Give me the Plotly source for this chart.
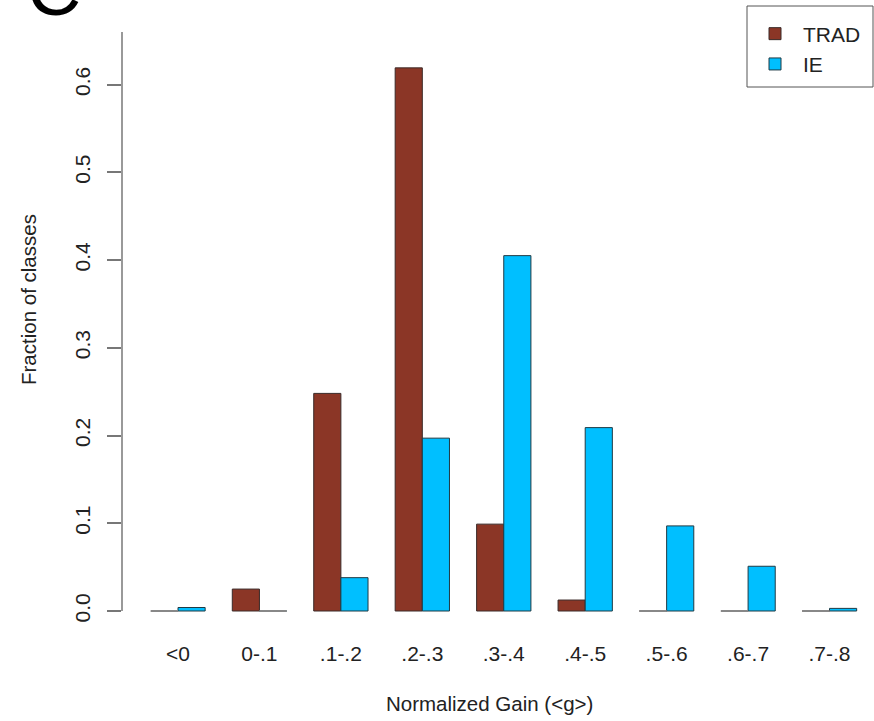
import plotly.graph_objects as go

categories = ["<0", "0-.1", ".1-.2", ".2-.3", ".3-.4", ".4-.5", ".5-.6", ".6-.7", ".7-.8"]
trad = [0.0, 0.025, 0.248, 0.619, 0.099, 0.0125, 0.0, 0.0, 0.0]
ie = [0.004, 0.0, 0.038, 0.197, 0.405, 0.209, 0.097, 0.051, 0.003]
y_ticks = [0.0, 0.1, 0.2, 0.3, 0.4, 0.5, 0.6]

FONT = "Liberation Sans, Arial, Helvetica, sans-serif"
TRAD_COLOR = "#8B3626"
IE_COLOR = "#00BFFF"

idx = list(range(len(categories)))
fig = go.Figure()
fig.add_trace(go.Bar(x=idx, y=trad, name="TRAD", marker=dict(color=TRAD_COLOR, line=dict(color="#3a2a28", width=1))))
fig.add_trace(go.Bar(x=idx, y=ie, name="IE", marker=dict(color=IE_COLOR, line=dict(color="#1f3a44", width=1))))

# zero-height bars drawn as flat grey outlines (as in R barplot)
zx, zy = [], []
for series, off in ((trad, -1/6), (ie, 1/6)):
    for i, v in enumerate(series):
        if v == 0:
            zx += [i + off - 1/6, i + off + 1/6, None]
            zy += [0, 0, None]
fig.add_trace(go.Scatter(x=zx, y=zy, mode="lines", line=dict(color="#888888", width=2),
                         showlegend=False, hoverinfo="skip"))

PL, PT, PW, PH = 122, 6, 752, 628
def px_x(p):
    return (p - PL) / PW
def px_y(p):
    return 1 - (p - PT) / PH

px_per_cat = 81.44
fig.update_layout(
    width=874, height=721,
    margin=dict(l=122, r=0, t=6, b=87),
    paper_bgcolor="white", plot_bgcolor="white",
    barmode="group", bargap=1/3, bargroupgap=0,
    font=dict(family=FONT, size=21, color="#222222"),
    showlegend=True,
    legend=dict(x=px_x(747), xanchor="left", y=px_y(13.5), yanchor="top",
                borderwidth=0, bgcolor="rgba(0,0,0,0)",
                font=dict(size=21, family=FONT, color="#222222"),
                itemwidth=46, tracegroupgap=0),
    xaxis=dict(range=[(122 - 178) / px_per_cat, (874 - 178) / px_per_cat],
               tickmode="array", tickvals=idx, ticktext=categories,
               showline=False, showgrid=False, zeroline=False, ticks="",
               ticklabelstandoff=5,
               tickfont=dict(size=21, family=FONT, color="#222222")),
    yaxis=dict(range=[-0.0262, 0.6895], tickmode="array", tickvals=y_ticks,
               ticktext=[f"{v:.1f}" for v in y_ticks],
               showline=False, showgrid=False, zeroline=False,
               ticks="outside", ticklen=14, tickcolor="#777777", tickwidth=1.5,
               tickangle=-90, ticklabelstandoff=9,
               tickfont=dict(size=21, family=FONT, color="#222222")),
)

# y axis line (extends a bit above the last tick)
fig.add_shape(type="line", xref="paper", yref="y", x0=0, x1=0, y0=0, y1=0.66,
              line=dict(color="#777777", width=1.5))
# legend frame
fig.add_shape(type="rect", xref="paper", yref="paper",
              x0=px_x(747), x1=px_x(873), y0=px_y(87), y1=px_y(6),
              line=dict(color="#555555", width=1), fillcolor="rgba(0,0,0,0)", layer="above")

fig.add_annotation(text="Fraction of classes", xref="paper", yref="paper",
                   x=px_x(28), y=px_y(300), textangle=-90, showarrow=False,
                   font=dict(size=20.5, family=FONT, color="#222222"),
                   xanchor="center", yanchor="middle")
fig.add_annotation(text="Normalized Gain (&lt;g&gt;)", xref="paper", yref="paper",
                   x=px_x(489), y=px_y(703), showarrow=False,
                   font=dict(size=20.5, family=FONT, color="#222222"),
                   xanchor="center", yanchor="middle")
fig.add_annotation(text="C", xref="paper", yref="paper",
                   x=px_x(54), y=px_y(-11), showarrow=False,
                   font=dict(size=75, family=FONT, color="black"),
                   xanchor="center", yanchor="middle")

fig.write_html("out.html", config={"displayModeBar": False},
               post_script="document.body.style.margin='0';document.body.style.overflow='hidden';")
